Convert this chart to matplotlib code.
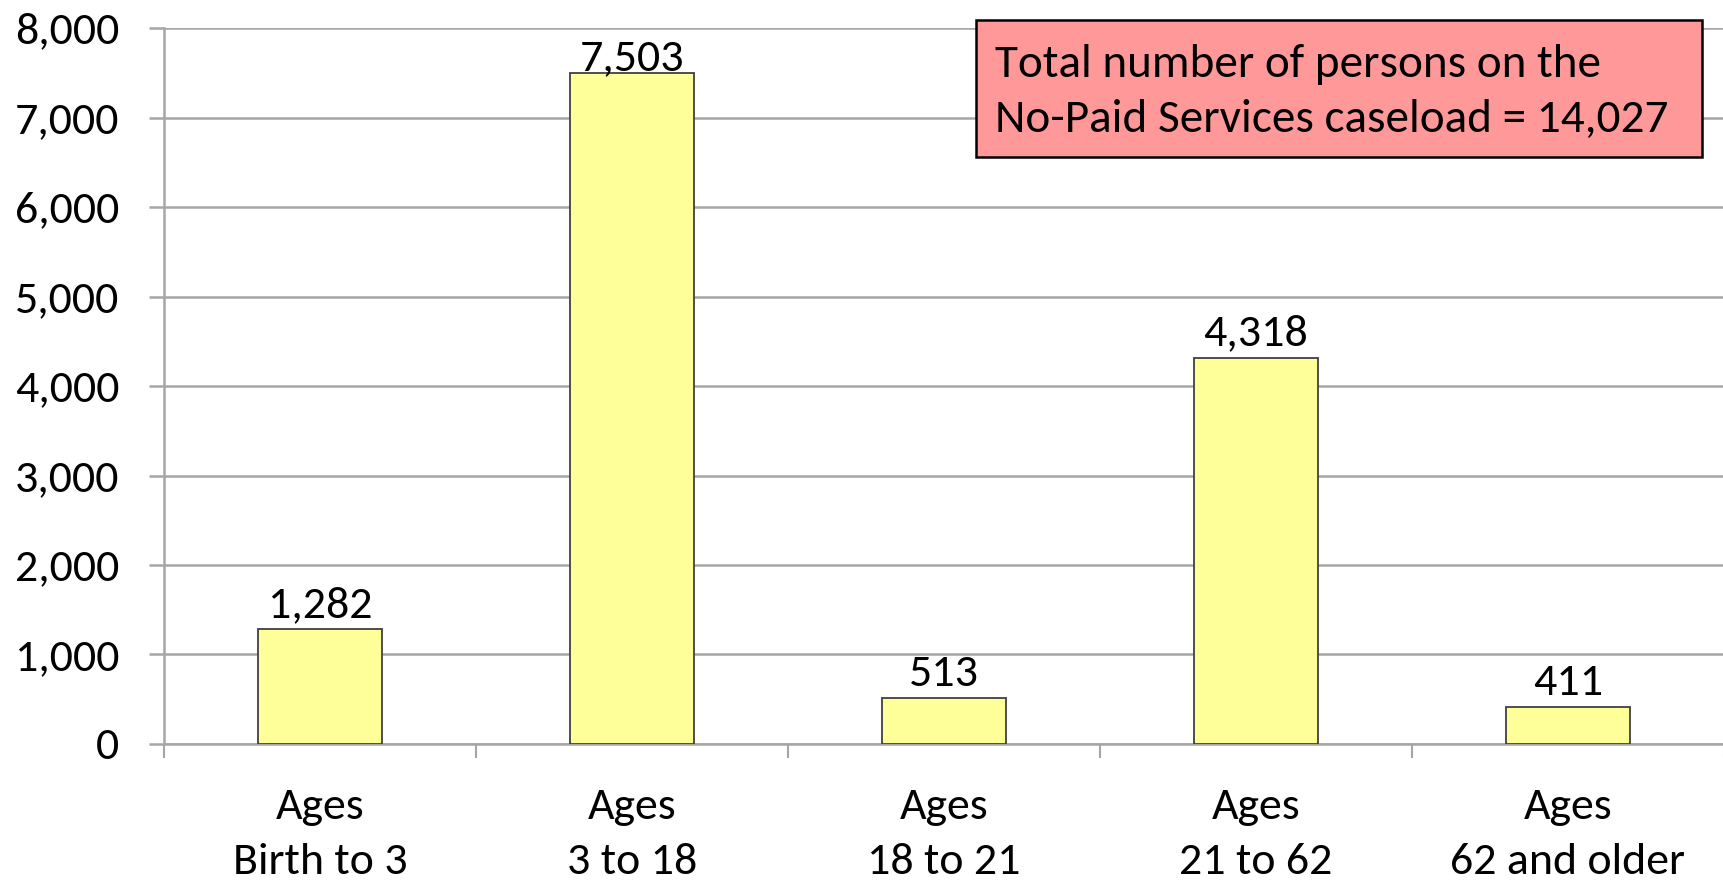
import matplotlib
matplotlib.use("Agg")
import matplotlib.pyplot as plt
from matplotlib.patches import Rectangle
import numpy as np

# Caseload by age group
categories = ["Ages\nBirth to 3", "Ages\n3 to 18", "Ages\n18 to 21", "Ages\n21 to 62", "Ages\n62 and older"]
counts = [1282, 7503, 513, 4318, 411]
total = 14027
yticks = list(range(0, 8001, 1000))

plt.rcParams['font.family'] = ['Carlito', 'DejaVu Sans']

fig = plt.figure(figsize=(17.24, 8.86), dpi=100)
ax = fig.add_axes([0.0951, 0.1603, 0.9049, 0.808])

x = np.arange(len(categories))
ax.bar(x, counts, width=0.4, color="#FFFF99", edgecolor="#404040", linewidth=1.3, zorder=3)

ax.set_xlim(-0.5, len(categories) - 0.5)
ax.set_ylim(0, 8000)

# value labels, kept inside the plot area like Excel does
for xi, v in zip(x, counts):
    ax.text(xi, min(v + 134, 7530), f"{v:,}", ha="center", va="baseline", fontsize=33, zorder=4)

ax.set_yticks(yticks)
ax.set_yticklabels([f"{t:,}" for t in yticks], fontsize=33)
ax.yaxis.grid(True, color="#a6a6a6", linewidth=1.8, zorder=0)

# category boundary ticks, labels centred between them
ax.set_xticks(np.arange(-0.5, len(categories), 1.0))
ax.set_xticklabels([])
ax.set_xticks(x, minor=True)
ax.set_xticklabels(categories, minor=True, fontsize=33, linespacing=1.55)
ax.tick_params(axis="x", which="minor", length=0, pad=32)
ax.tick_params(axis="x", which="major", length=10, color="#a6a6a6", width=1.5)
ax.tick_params(axis="y", length=11, color="#a6a6a6", width=1.8, pad=21)

for side in ["top", "right"]:
    ax.spines[side].set_visible(False)
for side in ["left", "bottom"]:
    ax.spines[side].set_color("#a6a6a6")
    ax.spines[side].set_linewidth(1.8)

# total annotation box
fig.patches.append(Rectangle((0.5661, 0.8228), 0.4211, 0.1546, transform=fig.transFigure,
                             facecolor="#FF9999", edgecolor="black", linewidth=1.8, zorder=5))
fig.text(0.5771, 0.9131, "Total number of persons on the", fontsize=34, va="baseline", zorder=6)
fig.text(0.5771, 0.8510, "No-Paid Services caseload = " + f"{total:,}", fontsize=34, va="baseline", zorder=6)

fig.savefig("out.png", dpi=100)
